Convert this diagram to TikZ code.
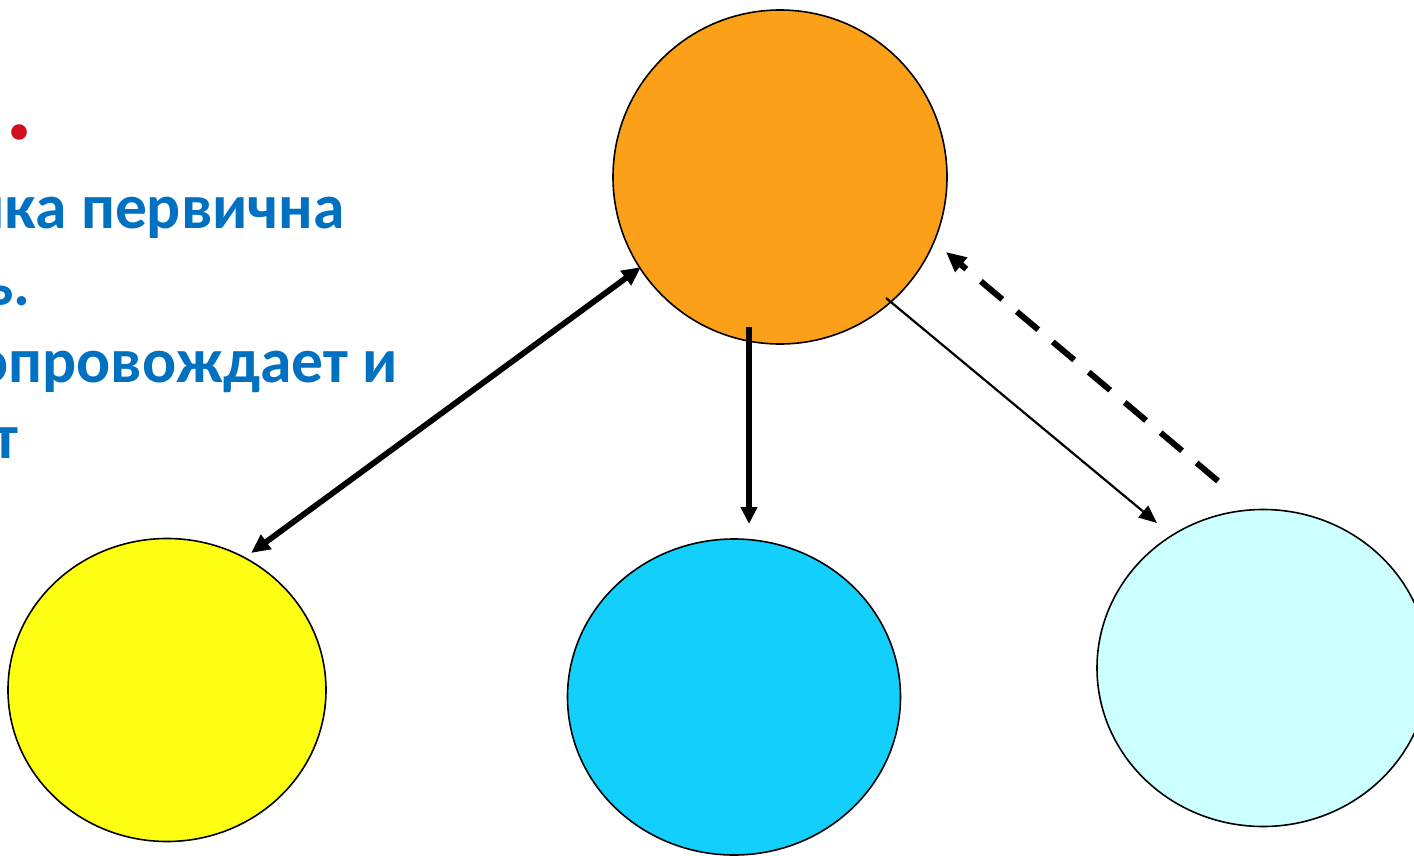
\documentclass[tikz,border=0pt]{standalone}
\usepackage{fontspec}
\setmainfont{Carlito}
\usetikzlibrary{arrows.meta,shapes.geometric}
\definecolor{orng}{HTML}{FCA01A}
\definecolor{yel}{HTML}{FFFF14}
\definecolor{blu}{HTML}{13CFFB}
\definecolor{lcy}{HTML}{CCFFFF}
\definecolor{txtblue}{HTML}{0070C0}
\definecolor{txtred}{HTML}{D0101F}
\tikzset{
  blob/.style={ellipse, draw=black, line width=1.6pt, inner sep=0pt},
  line/.style={font=\bfseries\fontsize{63.5}{77}\selectfont, text=txtblue, inner sep=0pt, anchor=base east},
  dblarr/.style={line width=5.8pt, {Triangle[length=19pt,width=17pt]}-{Triangle[length=19pt,width=17pt]}},
  thickarr/.style={line width=5.8pt, -{Triangle[length=17pt,width=16pt]}},
  thinarr/.style={line width=2.2pt, -{Triangle[length=18pt,width=15pt]}},
  dasharr/.style={line width=6pt, dash pattern=on 28pt off 19pt, -{Triangle[length=20pt,width=18pt]}}
}
\begin{document}
\begin{tikzpicture}[x=1pt,y=-1pt]
\useasboundingbox[fill=white] (0,0) rectangle (1414,856);
\begin{scope}
\clip (0,0) rectangle (1414,856);
\node[blob, fill=orng, minimum width=334pt, minimum height=334pt] (top) at (780,177) {};
\node[blob, fill=yel, minimum width=318pt, minimum height=303pt] (left) at (167,690) {};
\node[blob, fill=blu, minimum width=333pt, minimum height=316pt] (mid) at (734,697) {};
\node[blob, fill=lcy, minimum width=332pt, minimum height=317pt] (right) at (1263,668) {};
\node[line, text=txtred, font=\bfseries\fontsize{105}{110}\selectfont] (t0) at (34,140) {.};
\node[line] (t1) at (345,228) {ика первична};
\node[line] (t2) at (31,305) {ь.};
\node[line] (t3) at (398,382) {сопровождает и};
\node[line] (t4) at (18,458) {ет};
\end{scope}
\coordinate (a1) at (641,267);
\coordinate (a2) at (251,553);
\coordinate (b1) at (749,327);
\coordinate (b2) at (749,524);
\coordinate (c1) at (886,298);
\coordinate (c2) at (1157,523);
\coordinate (d1) at (1218,481);
\coordinate (d2) at (946,252);
\draw[dblarr] (a1) -- (a2);
\draw[thickarr] (b1) -- (b2);
\draw[thinarr] (c1) -- (c2);
\draw[dasharr] (d1) -- (d2);
\end{tikzpicture}
\end{document}
